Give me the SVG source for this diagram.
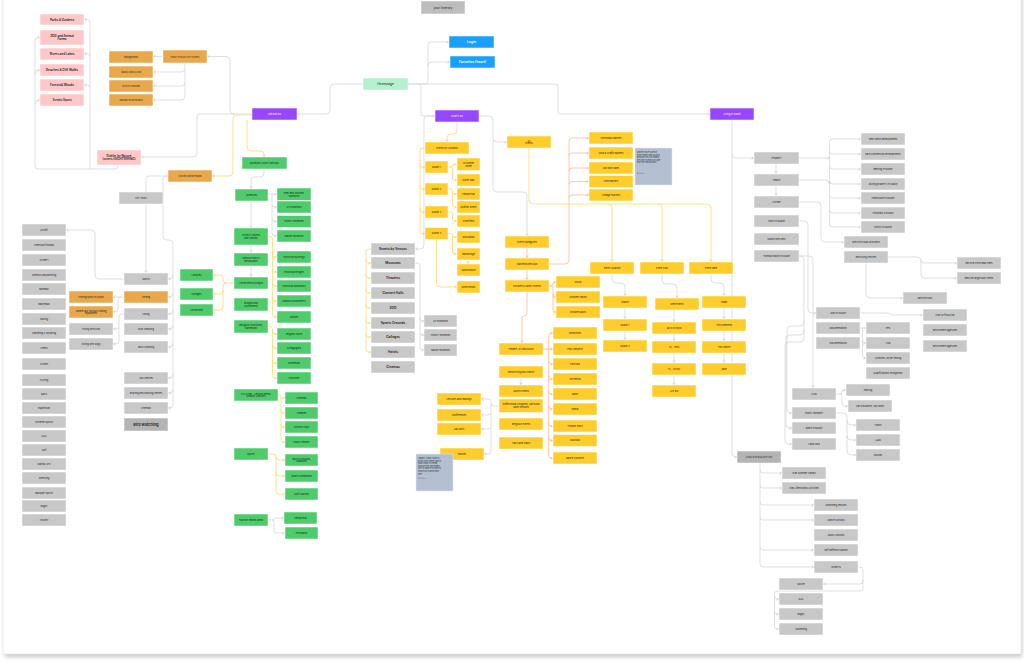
<svg xmlns="http://www.w3.org/2000/svg" width="1024" height="661" viewBox="0 0 1024 661">
<defs>
<style>
.n rect{stroke:#ffffff;stroke-width:.5}
.n text{font-family:Inter,"Liberation Sans",sans-serif;font-size:2.4px;fill:#1e1e1e;text-anchor:middle;dominant-baseline:central}
.gy rect{fill:#c8c8c8}
.dk rect{fill:#b4b4b4}
.yl rect{fill:#ffcd2b}
.gr rect{fill:#4ecb6b}
.or rect{fill:#e8a84b}
.pk rect{fill:#ffc8c8}
.pu rect{fill:#9747ff}
.bl rect{fill:#18a0fb}
.mt rect{fill:#b6f1cf}
.pu text,.bl text{fill:#ffffff}
.bl text{font-size:3.4px;font-weight:600}
.b text{font-size:3.2px;font-weight:700;fill:#333}
.pk text{font-size:3px;font-weight:700;fill:#333}
.nt rect{fill:#b4c0d2;stroke:#e4e8ee}
.nt text{text-anchor:start;font-size:1.9px;dominant-baseline:auto;fill:#333}
.c{fill:none;stroke-width:.7;stroke-linejoin:round}
.cg{stroke:#d2d2d2;marker-end:url(#ag)}
.cy{stroke:#ffd55c;marker-end:url(#ay)}
.cs{stroke:#ffb08c;marker-end:url(#as)}
</style>
<marker id="ag" markerWidth="4" markerHeight="4" refX="2.4" refY="1.5" orient="auto" markerUnits="userSpaceOnUse"><path d="M0.3,0.2 L2.4,1.5 L0.3,2.8" fill="none" stroke="#bdbdbd" stroke-width=".5"/></marker>
<marker id="ay" markerWidth="4" markerHeight="4" refX="2.4" refY="1.5" orient="auto" markerUnits="userSpaceOnUse"><path d="M0.3,0.2 L2.4,1.5 L0.3,2.8" fill="none" stroke="#f5c53c" stroke-width=".5"/></marker>
<marker id="as" markerWidth="4" markerHeight="4" refX="2.4" refY="1.5" orient="auto" markerUnits="userSpaceOnUse"><path d="M0.3,0.2 L2.4,1.5 L0.3,2.8" fill="none" stroke="#ff9a6e" stroke-width=".5"/></marker>
<filter id="sh" x="-5%" y="-5%" width="110%" height="110%"><feGaussianBlur stdDeviation="2"/></filter>
</defs>
<rect x="0" y="0" width="1024" height="661" fill="#ffffff"/>
<rect x="5" y="-4" width="1017" height="661" fill="#9a9a9a" opacity=".55" filter="url(#sh)"/>
<rect x="3" y="-6" width="1018" height="660" fill="#ffffff" stroke="#e6e6e6" stroke-width=".6"/>

<g id="connectors">
<path class="c cg" d="M408,84 H425 Q428,84 428,81 V45 Q428,42 431,42 H448.5"/>
<path class="c cg" d="M428,66 Q428,62 432,62 H449.5"/>
<path class="c cg" d="M408,84 H555 Q558,84 558,87 V111 Q558,114 561,114 H709.5"/>
<path class="c cg" d="M418,84 Q421,84 421,87 V113 Q421,116 424,116 H434.5"/>
<path class="c cg" d="M363,84 H334 Q330,84 330,88 V110 Q330,114 326,114 H297.5"/>
<path class="c cg" d="M252,114 H200 Q197,114 197,117 V153 Q197,157 193,157 H141.5"/>
<path class="c cg" d="M234,114 Q230,114 230,110 V60 Q230,56.5 226,56.5 H207.5"/>
<path class="c cg" d="M163,56.5 H153.5"/>
<path class="c cg" d="M185,63 V68 Q185,72 181,72 H153.5"/>
<path class="c cg" d="M185,70 V82 Q185,86 181,86 H153.5"/>
<path class="c cg" d="M185,84 V96 Q185,100 181,100 H153.5"/>
<path class="c cg" d="M118,165 V166 Q118,169 115,169 H38 Q35,169 35,166 V41 Q35,37.5 38,37.5 H39.5"/>
<path class="c cg" d="M35,74 Q35,70 38,70 H39.5"/>
<path class="c cg" d="M35,104 Q35,100 38,100 H39.5"/>
<path class="c cg" d="M90,169 V23 Q90,19.5 87,19.5 H84.5"/>
<path class="c cg" d="M90,57 Q90,53.7 87,53.7 H84.5"/>
<path class="c cg" d="M90,88 Q90,85 87,85 H84.5"/>
<path class="c cg" d="M168,176 H149 Q146,176 146,179 V272.5"/>
<path class="c cg" d="M168,176 H166 Q163,176 163,179 V236 Q163,240 167,240 H169 Q173,240 173,244 V404 Q173,408 170,408 H168.5"/>
<path class="c cg" d="M173,275 Q173,279 170,279 H168.5"/>
<path class="c cg" d="M173,293 Q173,297 170,297 H168.5"/>
<path class="c cg" d="M173,310 Q173,314 170,314 H168.5"/>
<path class="c cg" d="M173,325 Q173,329 170,329 H168.5"/>
<path class="c cg" d="M173,343 Q173,347 170,347 H168.5"/>
<path class="c cg" d="M173,374 Q173,378 170,378 H168.5"/>
<path class="c cg" d="M173,389 Q173,393 170,393 H168.5"/>
<path class="c cg" d="M124,279 H99 Q95,279 95,275 V234 Q95,230 91,230 H66.5"/>
<path class="c cg" d="M124,297 H113.5"/>
<path class="c cg" d="M121,297 Q118,297 118,300 V308.7 Q118,311.7 115,311.7 H113.5"/>
<path class="c cg" d="M124,314 H122 Q119,314 119,317 V326 Q119,329 116,329 H113.5"/>
<path class="c cg" d="M119,327 V341 Q119,344 116,344 H113.5"/>
<path class="c cg" d="M264,169 V173 Q264,177 260,177 H254 Q251,177 251,180 V188.5"/>
<path class="c cg" d="M251,201 V227.5"/>
<path class="c cg" d="M251,245 V252.5"/>
<path class="c cg" d="M251,266 V276.5"/>
<path class="c cg" d="M268,194 H276.5"/>
<path class="c cg" d="M272,194 V204 Q272,207 275,207 H276.5"/>
<path class="c cg" d="M272,205 V218.5 Q272,221.5 275,221.5 H276.5"/>
<path class="c cg" d="M272,220 V233 Q272,236 275,236 H276.5"/>
<path class="c cg" d="M268,520 H272 Q274,520 274,519 Q274,518 276,518 H283.5"/>
<path class="c cg" d="M272,520 Q274,520 274,522 V531 Q274,533 276,533 H284.5"/>
<path class="c cg" d="M435,116 H427 Q424,116 424,119 V245 Q424,249 420,249 H415.5"/>
<path class="c cg" d="M479,116 H489 Q493,116 493,120 V138 Q493,142 497,142 H506.5"/>
<path class="c cg" d="M493,140 V188 Q493,192 497,192 H523 Q527,192 527,196 V235.5"/>
<path class="c cg" d="M415,263 H417 Q420,263 420,266 V318 Q420,321 422,321 H423.5"/>
<path class="c cg" d="M420,318 V332 Q420,335 422,335 H423.5"/>
<path class="c cg" d="M420,333 V347 Q420,350 422,350 H423.5"/>
<path class="c cg" d="M468,260 V263.5"/>
<path class="c cg" d="M612,274 V279 Q612,283 616,283 H621 Q625,283 625,287 V295.5"/>
<path class="c cg" d="M625,308.3 V318.5"/>
<path class="c cg" d="M625,331 V339.5"/>
<path class="c cg" d="M662,274 V280 Q662,284 666,284 H673 Q677,284 677,288 V297.5"/>
<path class="c cg" d="M674,310 V321.5"/>
<path class="c cg" d="M674,334.3 V340.5"/>
<path class="c cg" d="M674,353 V362.5"/>
<path class="c cg" d="M674,375.3 V384.5"/>
<path class="c cg" d="M711,274 V279 Q711,283 715,283 H720 Q724,283 724,287 V295.5"/>
<path class="c cg" d="M724,308.3 V318.5"/>
<path class="c cg" d="M724,331 V340.5"/>
<path class="c cg" d="M724,353 V362.5"/>
<path class="c cg" d="M521,378.3 V384.5"/>
<path class="c cg" d="M499,406 H494 Q491,406 491,403 V401.5 Q491,399 488,399 H481.5"/>
<path class="c cg" d="M491,404 V412 Q491,415 488,415 H481.5"/>
<path class="c cg" d="M491,413 V426 Q491,429 488,429 H481.5"/>
<path class="c cg" d="M491,427 V451 Q491,454 488,454 H484.5"/>
<path class="c cg" d="M732,120 V453 Q732,457 736,457 H736.8"/>
<path class="c cg" d="M732,154 Q732,158 736,158 H753.5"/>
<path class="c cg" d="M776,164 V173.5"/>
<path class="c cg" d="M776,186 V195.5"/>
<path class="c cg" d="M799,158 H829.5"/>
<path class="c cg" d="M799,180 H825 Q829.5,180 829.5,184"/>
<path class="c cg" d="M829.5,142 Q829.5,139 832.5,139 H860.5"/>
<path class="c cg" d="M829.5,142 V151 Q829.5,154 832.5,154 H860.5"/>
<path class="c cg" d="M829.5,150 V166 Q829.5,169 832.5,169 H860.5"/>
<path class="c cg" d="M829.5,166 V181 Q829.5,184 832.5,184 H860.5"/>
<path class="c cg" d="M829.5,181 V195 Q829.5,198 832.5,198 H860.5"/>
<path class="c cg" d="M829.5,195 V210 Q829.5,213 832.5,213 H860.5"/>
<path class="c cg" d="M829.5,209 V224 Q829.5,227 832.5,227 H860.5"/>
<path class="c cg" d="M799,202 H817 Q821,202 821,206 V238 Q821,242 825,242 H843.5"/>
<path class="c cg" d="M888,257 H917 Q921,257 921,260 Q921,263 924,263 H956.5"/>
<path class="c cg" d="M921,260 V275 Q921,278 924,278 H956.5"/>
<path class="c cg" d="M866,263 V294 Q866,298 870,298 H902.5"/>
<path class="c cg" d="M799,221 H804 Q808,221 808,225 V309 Q808,313 812,313 H815.5"/>
<path class="c cg" d="M860,313 H886 Q890,313 892,315 H922.5"/>
<path class="c cg" d="M860,328 H865.5"/>
<path class="c cg" d="M862.5,328 V340 Q862.5,343 864,343 H865.5"/>
<path class="c cg" d="M862.5,340 V355 Q862.5,358 864,358 H865.5"/>
<path class="c cg" d="M799,256 H809 Q813,256 813,260 V387.5"/>
<path class="c cg" d="M799,256 H801 Q804,256 804,260 V322 Q804,326 800,326 H791 Q787,326 787,330 V409 Q787,413 790,413 H791.5"/>
<path class="c cg" d="M804,320 V331 Q804,335 800,335 H790 Q786,335 786,339 V424 Q786,428 789,428 H791.5"/>
<path class="c cg" d="M804,330 V338 Q804,342 800,342 H789 Q785,342 785,346 V440 Q785,444 788,444 H791.5"/>
<path class="c cg" d="M836,394 H839 Q842,394 842,392 Q842,390 844,390 H845.5"/>
<path class="c cg" d="M840,394 Q842,394 842,396 V404 Q842,406 844.5,406 H847.5"/>
<path class="c cg" d="M836,413 H843 Q847,413 847,417 V421 Q847,425 851,425 H855.5"/>
<path class="c cg" d="M847,420 V436 Q847,440 851,440 H855.5"/>
<path class="c cg" d="M847,435 V451 Q847,455 851,455 H855.5"/>
<path class="c cg" d="M760,463 V564 Q760,567 763,567 H813.5"/>
<path class="c cg" d="M760,470 Q760,473 763,473 H781.5"/>
<path class="c cg" d="M760,485 Q760,488 763,488 H781.5"/>
<path class="c cg" d="M760,502 Q760,505 763,505 H813.5"/>
<path class="c cg" d="M760,517 Q760,520 763,520 H813.5"/>
<path class="c cg" d="M760,547 Q760,550 763,550 H813.5"/>
<path class="c cg" d="M858,567 H860 Q863,567 863,570 V581 Q863,584 860,584 H823.5"/>
<path class="c cg" d="M863,580 V588 Q863,591 860,591 H777.5 Q774.5,591 774.5,594 V626 Q774.5,629 777,629 H778.5"/>
<path class="c cg" d="M774.5,596 Q774.5,599 777,599 H778.5"/>
<path class="c cg" d="M774.5,611 Q774.5,614 777,614 H778.5"/>

<path class="c cy" d="M252,115 H237 Q233,115 233,119 V172 Q233,176 229,176 H212.5"/>
<path class="c cy" d="M247,120 V147 Q247,151 251,151 H260 Q264,151 264,154 V156.5"/>
<path class="c cy" d="M268,236.5 H270 Q272.5,236.5 272.5,239 V254.5 Q272.5,257 275,257 H276.5"/>
<path class="c cy" d="M272.5,254 V269.5 Q272.5,272 275,272 H276.5"/>
<path class="c cy" d="M272.5,269 V283.5 Q272.5,286 275,286 H276.5"/>
<path class="c cy" d="M272.5,283 V298.5 Q272.5,301 275,301 H276.5"/>
<path class="c cy" d="M272.5,298 V314.5 Q272.5,317 275,317 H276.5"/>
<path class="c cy" d="M268,326.5 H270 Q272.5,326.5 272.5,329 V331.5 Q272.5,334 275,334 H276.5"/>
<path class="c cy" d="M272.5,331 V345.5 Q272.5,348 275,348 H276.5"/>
<path class="c cy" d="M272.5,345 V360.5 Q272.5,363 275,363 H276.5"/>
<path class="c cy" d="M272.5,360 V375.5 Q272.5,378 275,378 H276.5"/>
<path class="c cy" d="M234,283 H226 Q223,283 223,280 V278 Q223,275 220,275 H213.5"/>
<path class="c cy" d="M226,283 Q223,283 223,286 V291 Q223,294 220,294 H213.5"/>
<path class="c cy" d="M223,290 V307 Q223,310 220,310 H213.5"/>
<path class="c cy" d="M278,395 H279 Q281,395 281,397 Q281,398 283,398 H284.5"/>
<path class="c cy" d="M281,397 V411 Q281,413 283,413 H284.5"/>
<path class="c cy" d="M281,410 V425 Q281,427 283,427 H284.5"/>
<path class="c cy" d="M281,424 V440 Q281,442 283,442 H284.5"/>
<path class="c cy" d="M268,454 H273 Q276,454 276,457 Q276,460 279,460 H284.5"/>
<path class="c cy" d="M276,457 V473 Q276,476 279,476 H284.5"/>
<path class="c cy" d="M276,472 V491 Q276,494 279,494 H284.5"/>
<path class="c cy" d="M457,122 V130 Q457,134 453,134 H451 Q447,134 447,138 V141.5"/>
<path class="c cy" d="M425,148 H423 Q420,148 420,151 V164 Q420,167 422,167 H424.8"/>
<path class="c cy" d="M420,163 V186 Q420,189 422,189 H424.8"/>
<path class="c cy" d="M420,185 V209 Q420,212 422,212 H424.8"/>
<path class="c cy" d="M420,208 V230.5 Q420,233.5 422,233.5 H424.8"/>
<path class="c cy" d="M448,167 H450 Q452.5,167 452.5,165.5 Q452.5,164.3 454.5,164.3 H456.5"/>
<path class="c cy" d="M450,167 Q452.5,167 452.5,169 V178 Q452.5,180 454.5,180 H456.5"/>
<path class="c cy" d="M448,189 H450 Q452.5,189 452.5,191 V192 Q452.5,194 454.5,194 H456.5"/>
<path class="c cy" d="M452.5,191 V205 Q452.5,207 454.5,207 H456.5"/>
<path class="c cy" d="M448,212 H450 Q452.5,212 452.5,214 V219 Q452.5,221 454.5,221 H456.5"/>
<path class="c cy" d="M448,233.5 H450 Q452.5,233.5 452.5,235 Q452.5,237 454.5,237 H456.5"/>
<path class="c cy" d="M452.5,235 V252 Q452.5,254 454.5,254 H456.5"/>
<path class="c cy" d="M436.5,240 V283 Q436.5,287 440.5,287 H456.5"/>
<path class="c cy" d="M529,148 V200 Q529,204 533,204 H707 Q711,204 711,208 V261.5"/>
<path class="c cy" d="M608,204 Q612,204 612,208 V261.5"/>
<path class="c cy" d="M658,204 Q662,204 662,208 V261.5"/>
<path class="c cy" d="M371,249 H369 Q366,249 366,252 V260 Q366,263 368,263 H370.5"/>
<path class="c cy" d="M366,259 V275 Q366,278 368,278 H370.5"/>
<path class="c cy" d="M366,274 V290 Q366,293 368,293 H370.5"/>
<path class="c cy" d="M366,289 V305 Q366,308 368,308 H370.5"/>
<path class="c cy" d="M366,304 V320 Q366,323 368,323 H370.5"/>
<path class="c cy" d="M366,319 V334 Q366,337 368,337 H370.5"/>
<path class="c cy" d="M366,333 V349 Q366,352 368,352 H370.5"/>

<path class="c cs" d="M527,248 V257.5"/>
<path class="c cs" d="M527,270 V279.5"/>
<path class="c cs" d="M549,264 H565 Q569,264 569,260 V141 Q569,138 572,138 H588.5"/>
<path class="c cs" d="M569,156 Q569,153 572,153 H588.5"/>
<path class="c cs" d="M569,171 Q569,168 572,168 H588.5"/>
<path class="c cs" d="M569,184.5 Q569,181.5 572,181.5 H588.5"/>
<path class="c cs" d="M569,198 Q569,195 572,195 H588.5"/>
<path class="c cs" d="M549,286 H551 Q553,286 553,284 Q553,282 554.5,282 H555.5"/>
<path class="c cs" d="M551,286 Q553,286 553,288 V295 Q553,297 554.5,297 H555.5"/>
<path class="c cs" d="M553,294 V310 Q553,312 554.5,312 H555.5"/>
<path class="c cs" d="M527,292 V313 Q527,316 524,316 Q522,316 522,319 V342.5"/>
<path class="c cs" d="M543,349 H552.5"/>
<path class="c cs" d="M548.7,349 V336 Q548.7,333 551,333 H552.5"/>
<path class="c cs" d="M548.7,349 V361 Q548.7,364 551,364 H552.5"/>
<path class="c cs" d="M548.7,361 V376 Q548.7,379 551,379 H552.5"/>
<path class="c cs" d="M548.7,376 V391 Q548.7,394 551,394 H552.5"/>
<path class="c cs" d="M548.7,391 V406 Q548.7,409 551,409 H552.5"/>
<path class="c cs" d="M548.7,406 V423 Q548.7,426 551,426 H552.5"/>
<path class="c cs" d="M548.7,423 V437.5 Q548.7,440.5 551,440.5 H552.5"/>
<path class="c cs" d="M548.7,437 V455 Q548.7,458 551,458 H552.5"/>
</g>

<g id="itinerary" class="n gy"><rect x="421" y="1" width="44" height="13" style="fill:#bdbdbd"/><text x="443" y="7.5" style="font-size:3px">your Itinerary</text></g>
<g id="homepage" class="n mt"><rect x="363" y="78" width="45" height="12"/><text x="385.5" y="84" style="font-size:3.2px">Homepage</text></g>
<g id="login" class="n bl"><rect x="449" y="36" width="45" height="12"/><text x="471.5" y="42">Login</text></g>
<g id="favorites" class="n bl"><rect x="450" y="56" width="45" height="12"/><text x="472.5" y="62">Favorites (heart)</text></g>
<g id="see-and-do" class="n pu"><rect x="252" y="108" width="45" height="12"/><text x="274.5" y="114">See and do</text></g>
<g id="whats-on" class="n pu"><rect x="435" y="110" width="44" height="12"/><text x="457" y="116">What's On</text></g>
<g id="living-in-dublin" class="n pu"><rect x="710" y="108" width="44" height="12"/><text x="732" y="114">Living in Dublin</text></g>

<g id="parks" class="n pk"><rect x="40" y="14" width="44" height="11"/><text x="62" y="19.5">Parks &amp; Gardens</text></g>
<g id="zoo" class="n pk"><rect x="40" y="30" width="44" height="15"/><text x="62" y="37.5"><tspan x="62" dy="-1.7">ZOO and Animal</tspan><tspan x="62" dy="3.4">Farms</tspan></text></g>
<g id="rivers" class="n pk"><rect x="40" y="48" width="44" height="12"/><text x="62" y="54">Rivers and Lakes</text></g>
<g id="beaches" class="n pk"><rect x="40" y="64" width="44" height="12"/><text x="62" y="70">Beaches &amp; Cliff Walks</text></g>
<g id="forests" class="n pk"><rect x="40" y="79" width="44" height="12"/><text x="62" y="85">Forests&amp; Woods</text></g>
<g id="scenic" class="n pk"><rect x="40" y="94" width="44" height="12"/><text x="62" y="100">Scenic Spots</text></g>
<g id="nature-lovers" class="n pk"><rect x="97" y="150" width="44" height="15"/><text x="119" y="157.5"><tspan x="119" dy="-1.7">Dublin for Nature</tspan><tspan x="119" dy="3.4">Lovers (SIGHTSEEING)</tspan></text></g>

<g id="family-fun" class="n or"><rect x="163" y="50" width="44" height="13"/><text x="185" y="56.5" style="font-size:1.9px">FAMILY FUN DAY OUT TICKETS</text></g>
<g id="playgrounds" class="n or"><rect x="109" y="51" width="44" height="12"/><text x="131" y="57">Playgrounds</text></g>
<g id="animal-parks" class="n or"><rect x="109" y="66" width="44" height="12"/><text x="131" y="72" style="font-size:1.9px">ANIMAL PARKS &amp; ZOO</text></g>
<g id="activity-centres" class="n or"><rect x="109" y="80" width="44" height="12"/><text x="131" y="86" style="font-size:1.9px">ACTIVITY CENTRES</text></g>
<g id="indoor-fun" class="n or"><rect x="109" y="94" width="44" height="12"/><text x="131" y="100" style="font-size:1.9px">INDOOR FUN NETWORKS</text></g>
<g id="leisure-centres" class="n or"><rect x="168" y="170" width="44" height="12"/><text x="190" y="176" style="font-size:1.9px">LEISURE CENTRE FINDER</text></g>
<g id="fishing" class="n or"><rect x="124" y="291" width="44" height="12"/><text x="146" y="297">Fishing</text></g>
<g id="fishing-spots" class="n or"><rect x="69" y="291" width="44" height="12"/><text x="91" y="297">Fishing spots in Dublin</text></g>
<g id="fishing-equipment" class="n or"><rect x="69" y="306" width="44" height="12"/><text x="91" y="312"><tspan x="91" dy="-1.4">Where can you buy Fishing</tspan><tspan x="91" dy="2.8">equipment</tspan></text></g>

<g id="city-tours" class="n gy"><rect x="119" y="192" width="44" height="12"/><text x="141" y="198">City Tours</text></g>
<g id="sports" class="n gy"><rect x="124" y="273" width="44" height="12"/><text x="146" y="279">Sports</text></g>
<g id="hiking" class="n gy"><rect x="124" y="308" width="44" height="12"/><text x="146" y="314">Hiking</text></g>
<g id="wild-camping" class="n gy"><rect x="124" y="323" width="44" height="12"/><text x="146" y="329">Wild Camping</text></g>
<g id="rock-climbing" class="n gy"><rect x="124" y="341" width="44" height="12"/><text x="146" y="347">Rock Climbing</text></g>
<g id="spa" class="n gy"><rect x="124" y="372" width="44" height="12"/><text x="146" y="378">SPA centres</text></g>
<g id="bowling" class="n gy"><rect x="124" y="387" width="44" height="12"/><text x="146" y="393">Bowling and bowling centres</text></g>
<g id="cinemas-left" class="n gy"><rect x="124" y="402" width="44" height="12"/><text x="146" y="408">Cinemas</text></g>
<g id="bird-watching" class="n dk b"><rect x="124" y="418" width="44" height="13"/><text x="146" y="424.5" style="font-size:3.8px">Bird watching</text></g>
<g id="hiking-kids" class="n gy"><rect x="69" y="323" width="44" height="12"/><text x="91" y="329">Hiking with kids</text></g>
<g id="hiking-dogs" class="n gy"><rect x="69" y="338" width="44" height="12"/><text x="91" y="344">Hiking with dogs</text></g>

<g id="s-airsoft" class="n gy"><rect x="22" y="224" width="44" height="12"/><text x="44" y="230">Airsoft</text></g>
<g id="s-american-football" class="n gy"><rect x="22" y="239" width="44" height="12"/><text x="44" y="245">American football</text></g>
<g id="s-archery" class="n gy"><rect x="22" y="254" width="44" height="12"/><text x="44" y="260">Archery</text></g>
<g id="s-athletics" class="n gy"><rect x="22" y="269" width="44" height="12"/><text x="44" y="275">Athletics and Running</text></g>
<g id="s-baseball" class="n gy"><rect x="22" y="283" width="44" height="12"/><text x="44" y="289">Baseball</text></g>
<g id="s-basketball" class="n gy"><rect x="22" y="298" width="44" height="12"/><text x="44" y="304">Basketball</text></g>
<g id="s-boxing" class="n gy"><rect x="22" y="313" width="44" height="12"/><text x="44" y="319">Boxing</text></g>
<g id="s-canoeing" class="n gy"><rect x="22" y="327" width="44" height="12"/><text x="44" y="333">Canoeing &amp; Kayaking</text></g>
<g id="s-chess" class="n gy"><rect x="22" y="342" width="44" height="12"/><text x="44" y="348">Chess</text></g>
<g id="s-cricket" class="n gy"><rect x="22" y="358" width="44" height="12"/><text x="44" y="364">Cricket</text></g>
<g id="s-cycling" class="n gy"><rect x="22" y="374" width="44" height="12"/><text x="44" y="380">Cycling</text></g>
<g id="s-darts" class="n gy"><rect x="22" y="388" width="44" height="12"/><text x="44" y="394">Darts</text></g>
<g id="s-equestrian" class="n gy"><rect x="22" y="402" width="44" height="12"/><text x="44" y="408">Equestrian</text></g>
<g id="s-extreme" class="n gy"><rect x="22" y="416" width="44" height="12"/><text x="44" y="422">Extreme Sports</text></g>
<g id="s-gaa" class="n gy"><rect x="22" y="430" width="44" height="12"/><text x="44" y="436">GAA</text></g>
<g id="s-golf" class="n gy"><rect x="22" y="444" width="44" height="12"/><text x="44" y="450">Golf</text></g>
<g id="s-martial" class="n gy"><rect x="22" y="458" width="44" height="12"/><text x="44" y="464">Martial Arts</text></g>
<g id="s-wrestling" class="n gy"><rect x="22" y="472" width="44" height="12"/><text x="44" y="478">Wrestling</text></g>
<g id="s-racquet" class="n gy"><rect x="22" y="487" width="44" height="12"/><text x="44" y="493">Racquet Sports</text></g>
<g id="s-rugby" class="n gy"><rect x="22" y="500" width="44" height="12"/><text x="44" y="506">Rugby</text></g>
<g id="s-hockey" class="n gy"><rect x="22" y="514" width="44" height="12"/><text x="44" y="520">Hockey</text></g>

<g id="g-sightseeing" class="n gr"><rect x="242" y="157" width="45" height="12"/><text x="264.5" y="163">Museums (SIGHTSEEING)</text></g>
<g id="g-museums" class="n gr"><rect x="235" y="189" width="33" height="12"/><text x="251.5" y="195">Museums</text></g>
<g id="g-historic" class="n gr"><rect x="234" y="228" width="34" height="17"/><text x="251" y="236.5"><tspan x="251" dy="-1.4">Historic Houses</tspan><tspan x="251" dy="2.8">and Castles</tspan></text></g>
<g id="g-pubs" class="n gr"><rect x="234" y="253" width="34" height="13"/><text x="251" y="259.5"><tspan x="251" dy="-1.4">Famous Pubs &amp;</tspan><tspan x="251" dy="2.8">Restaurants</tspan></text></g>
<g id="g-education" class="n gr"><rect x="234" y="277" width="34" height="12"/><text x="251" y="283">Universities/Colleges</text></g>
<g id="g-bridges" class="n gr"><rect x="234" y="298" width="34" height="13"/><text x="251" y="304.5"><tspan x="251" dy="-1.4">Bridges and</tspan><tspan x="251" dy="2.8">Monuments</tspan></text></g>
<g id="g-religious" class="n gr"><rect x="234" y="320" width="34" height="13"/><text x="251" y="326.5"><tspan x="251" dy="-1.4">Religious Structures,</tspan><tspan x="251" dy="2.8">Cathedrals</tspan></text></g>
<g id="g-beer" class="n gr"><rect x="277" y="188" width="34" height="12.5"/><text x="294" y="194.2"><tspan x="294" dy="-1.4">Beer and Whiskey</tspan><tspan x="294" dy="2.8">Museums</tspan></text></g>
<g id="g-art" class="n gr"><rect x="277" y="201" width="34" height="12"/><text x="294" y="207">Art museums</text></g>
<g id="g-history" class="n gr"><rect x="277" y="215.5" width="34" height="12"/><text x="294" y="221.5">History museums</text></g>
<g id="g-nature" class="n gr"><rect x="277" y="230" width="34" height="12"/><text x="294" y="236">Nature museums</text></g>
<g id="g-hbuildings" class="n gr"><rect x="277" y="251" width="34" height="12"/><text x="294" y="257">Historical Buildings</text></g>
<g id="g-hbridges" class="n gr"><rect x="277" y="266" width="34" height="12"/><text x="294" y="272">Historical Bridges</text></g>
<g id="g-hlandmarks" class="n gr"><rect x="277" y="280" width="34" height="12"/><text x="294" y="286">Historical landmarks</text></g>
<g id="g-monuments" class="n gr"><rect x="277" y="295" width="34" height="12"/><text x="294" y="301">Famous Monuments</text></g>
<g id="g-castles" class="n gr"><rect x="277" y="311" width="34" height="12"/><text x="294" y="317">Castles</text></g>
<g id="g-relspots" class="n gr"><rect x="277" y="328" width="34" height="12"/><text x="294" y="334">religious spots</text></g>
<g id="g-synagogues" class="n gr"><rect x="277" y="342" width="34" height="12"/><text x="294" y="348">Synagogues</text></g>
<g id="g-cathedrals" class="n gr"><rect x="277" y="357" width="34" height="12"/><text x="294" y="363">Cathedrals</text></g>
<g id="g-churches" class="n gr"><rect x="277" y="372" width="34" height="12"/><text x="294" y="378">Churches</text></g>
<g id="g-libraries" class="n gr"><rect x="180" y="269" width="33" height="12"/><text x="196.5" y="275">Libraries</text></g>
<g id="g-colleges" class="n gr"><rect x="180" y="288" width="33" height="12"/><text x="196.5" y="294">Colleges</text></g>
<g id="g-universities" class="n gr"><rect x="180" y="304" width="33" height="12"/><text x="196.5" y="310">Universities</text></g>
<g id="g-culture" class="n gr"><rect x="234" y="389" width="44" height="12"/><text x="256" y="395"><tspan x="256" dy="-1.4">CULTURE - Leisure events</tspan><tspan x="256" dy="2.8">(theatre, concert)</tspan></text></g>
<g id="g-cinemas" class="n gr"><rect x="285" y="392" width="33" height="12"/><text x="301.5" y="398">Cinemas</text></g>
<g id="g-theatres" class="n gr"><rect x="285" y="407" width="33" height="12"/><text x="301.5" y="413">Theatres</text></g>
<g id="g-concert" class="n gr"><rect x="285" y="421" width="33" height="12"/><text x="301.5" y="427">Concert Halls</text></g>
<g id="g-music" class="n gr"><rect x="285" y="436" width="33" height="12"/><text x="301.5" y="442">Music Venues</text></g>
<g id="g-sports" class="n gr"><rect x="234" y="448" width="34" height="12"/><text x="251" y="454">Sports</text></g>
<g id="g-grounds" class="n gr"><rect x="285" y="454" width="33" height="12"/><text x="301.5" y="460"><tspan x="301.5" dy="-1.4">Sports Grounds,</tspan><tspan x="301.5" dy="2.8">Stadiums</tspan></text></g>
<g id="g-complexes" class="n gr"><rect x="285" y="470" width="33" height="12"/><text x="301.5" y="476">Sports Complexes</text></g>
<g id="g-golf" class="n gr"><rect x="285" y="488" width="33" height="12"/><text x="301.5" y="494">Golf Courses</text></g>
<g id="g-tourism" class="n gr"><rect x="234" y="514" width="34" height="12"/><text x="251" y="520">Tourism related areas</text></g>
<g id="g-templebar" class="n gr"><rect x="284" y="512" width="33" height="12"/><text x="300.5" y="518">Temple Bar</text></g>
<g id="g-portobello" class="n gr"><rect x="285" y="527" width="33" height="12"/><text x="301.5" y="533">Portobello</text></g>

<g id="v-events" class="n gy b"><rect x="371" y="243" width="44" height="12"/><text x="393" y="249">Events by Venues</text></g>
<g id="v-museums" class="n gy b"><rect x="371" y="257" width="44" height="12"/><text x="393" y="263">Museums</text></g>
<g id="v-theatres" class="n gy b"><rect x="371" y="272" width="44" height="12"/><text x="393" y="278">Theatres</text></g>
<g id="v-concert" class="n gy b"><rect x="371" y="287" width="44" height="12"/><text x="393" y="293">Concert Halls</text></g>
<g id="v-zoo" class="n gy b"><rect x="371" y="302" width="44" height="12"/><text x="393" y="308">ZOO</text></g>
<g id="v-sports" class="n gy b"><rect x="371" y="317" width="44" height="12"/><text x="393" y="323">Sports Grounds</text></g>
<g id="v-colleges" class="n gy b"><rect x="371" y="331" width="44" height="12"/><text x="393" y="337">Colleges</text></g>
<g id="v-hotels" class="n gy b"><rect x="371" y="346" width="44" height="12"/><text x="393" y="352">Hotels</text></g>
<g id="v-cinemas" class="n gy b"><rect x="371" y="361" width="44" height="12"/><text x="393" y="367">Cinemas</text></g>
<g id="v-art" class="n gy"><rect x="424" y="315" width="33" height="12"/><text x="440.5" y="321">Art museums</text></g>
<g id="v-history" class="n gy"><rect x="424" y="329" width="33" height="12"/><text x="440.5" y="335">History museums</text></g>
<g id="v-nature" class="n gy"><rect x="424" y="344" width="33" height="12"/><text x="440.5" y="350">Nature museums</text></g>

<g id="w-location" class="n yl"><rect x="425" y="142" width="44" height="12"/><text x="447" y="148">Events by Location</text></g>
<g id="w-d1" class="n yl"><rect x="425" y="161" width="23" height="12"/><text x="436.5" y="167">Dublin 1</text></g>
<g id="w-d2" class="n yl"><rect x="425" y="183" width="23" height="12"/><text x="436.5" y="189">Dublin 2</text></g>
<g id="w-d3" class="n yl"><rect x="425" y="206" width="23" height="12"/><text x="436.5" y="212">Dublin 3</text></g>
<g id="w-d4" class="n yl"><rect x="425" y="227.5" width="23" height="12"/><text x="436.5" y="233.5">Dublin 4</text></g>
<g id="w-oconnell" class="n yl"><rect x="457" y="158" width="23" height="12.5"/><text x="468.5" y="164.2"><tspan x="468.5" dy="-1.4">O'Connell</tspan><tspan x="468.5" dy="2.8">Street</tspan></text></g>
<g id="w-northwall" class="n yl"><rect x="457" y="174" width="23" height="12"/><text x="468.5" y="180">North Wall</text></g>
<g id="w-templebar" class="n yl"><rect x="457" y="188" width="23" height="12"/><text x="468.5" y="194">Temple Bar</text></g>
<g id="w-grafton" class="n yl"><rect x="457" y="201" width="23" height="12"/><text x="468.5" y="207">Grafton Street</text></g>
<g id="w-smithfield" class="n yl"><rect x="457" y="215" width="23" height="12"/><text x="468.5" y="221">Smithfield</text></g>
<g id="w-docklands" class="n yl"><rect x="457" y="231" width="23" height="12"/><text x="468.5" y="237">Docklands</text></g>
<g id="w-ballsbridge" class="n yl"><rect x="457" y="248" width="23" height="12"/><text x="468.5" y="254">Ballsbridge</text></g>
<g id="w-sandymount" class="n yl"><rect x="457" y="264" width="23" height="12"/><text x="468.5" y="270">Sandymount</text></g>
<g id="w-donnybrook" class="n yl"><rect x="457" y="281" width="23" height="12"/><text x="468.5" y="287">Donnybrook</text></g>

<g id="e-all" class="n yl"><rect x="507" y="136" width="44" height="12"/><text x="529" y="142"><tspan x="529" dy="-1.4">All</tspan><tspan x="529" dy="2.8">Events</tspan></text></g>
<g id="e-categories" class="n yl"><rect x="505" y="236" width="44" height="12"/><text x="527" y="242">Event Categories</text></g>
<g id="e-markets" class="n yl"><rect x="505" y="258" width="44" height="12"/><text x="527" y="264">Markets&amp;Festivals</text></g>
<g id="e-children" class="n yl"><rect x="505" y="280" width="44" height="12"/><text x="527" y="286">Children &amp; Family events</text></g>
<g id="m-christmas" class="n yl"><rect x="589" y="132" width="44" height="12"/><text x="611" y="138">Christmas Markets</text></g>
<g id="m-food" class="n yl"><rect x="589" y="147" width="44" height="12"/><text x="611" y="153">Food &amp; Crafts markets</text></g>
<g id="m-carboot" class="n yl"><rect x="589" y="162" width="44" height="12"/><text x="611" y="168">Car boot sales</text></g>
<g id="m-flea" class="n yl"><rect x="589" y="175.5" width="44" height="12"/><text x="611" y="181.5">Flea markets</text></g>
<g id="m-vintage" class="n yl"><rect x="589" y="189" width="44" height="12"/><text x="611" y="195">Vintage markets</text></g>
<g id="note-markets" class="n nt"><rect x="635" y="148" width="37" height="37"/><text x="637" y="153"><tspan x="637" dy="0">Markets have to be an</tspan><tspan x="637" dy="2.6">event rather than location,</tspan><tspan x="637" dy="2.6">because they will enable</tspan><tspan x="637" dy="2.6">the user to search by date</tspan><tspan x="637" dy="2.6">and type and location</tspan><tspan x="637" dy="11" style="font-size:1.5px;fill:#667">Mark Ross</tspan></text></g>
<g id="c-circus" class="n yl"><rect x="556" y="276" width="44" height="12"/><text x="578" y="282">Circus</text></g>
<g id="c-shows" class="n yl"><rect x="556" y="291" width="44" height="12"/><text x="578" y="297">Children shows</text></g>
<g id="c-plays" class="n yl"><rect x="556" y="306" width="44" height="12"/><text x="578" y="312">Children plays</text></g>
<g id="e-theatre" class="n yl"><rect x="499" y="343" width="44" height="12"/><text x="521" y="349">Theatre, Art and Music</text></g>
<g id="e-networking" class="n yl"><rect x="499" y="366" width="44" height="12"/><text x="521" y="372">Networking and Charity</text></g>
<g id="e-sports" class="n yl"><rect x="499" y="385" width="44" height="12"/><text x="521" y="391">Sports events</text></g>
<g id="e-professional" class="n yl"><rect x="499" y="399" width="44" height="13.5"/><text x="521" y="405.7"><tspan x="521" dy="-1.4">Professional Congress, Fairs and</tspan><tspan x="521" dy="2.8">open lectures</tspan></text></g>
<g id="e-religious" class="n yl"><rect x="499" y="418" width="44" height="12"/><text x="521" y="424">Religious events</text></g>
<g id="e-tours" class="n yl"><rect x="499" y="437" width="44" height="12"/><text x="521" y="443">Tours and walks</text></g>
<g id="e-lectures" class="n yl"><rect x="437" y="393" width="44" height="12"/><text x="459" y="399">Lectures and readings</text></g>
<g id="e-conferences" class="n yl"><rect x="437" y="409" width="44" height="12"/><text x="459" y="415">Conferences</text></g>
<g id="e-jobfairs" class="n yl"><rect x="437" y="423" width="44" height="12"/><text x="459" y="429">Job Fairs</text></g>
<g id="e-movies" class="n yl"><rect x="440" y="448" width="44" height="12"/><text x="462" y="454">Movies</text></g>
<g id="note-movies" class="n nt"><rect x="416" y="454" width="37" height="37"/><text x="418" y="459"><tspan x="418" dy="0">Update: it didn't have to</tspan><tspan x="418" dy="2.6">be an event rather than to</tspan><tspan x="418" dy="2.6">make under a cinema,</tspan><tspan x="418" dy="2.6">because this will enable</tspan><tspan x="418" dy="2.6">user to search for specific</tspan><tspan x="418" dy="2.6">movies by location and</tspan><tspan x="418" dy="2.6">time</tspan><tspan x="418" dy="4" style="font-size:1.5px;fill:#667">Mark Ross</tspan></text></g>
<g id="t-exhibitions" class="n yl"><rect x="553" y="327" width="44" height="12"/><text x="575" y="333">Exhibitions</text></g>
<g id="t-pop" class="n yl"><rect x="553" y="343" width="44" height="12"/><text x="575" y="349">Pop Concerts</text></g>
<g id="t-festivals" class="n yl"><rect x="553" y="358" width="44" height="12"/><text x="575" y="364">Festivals</text></g>
<g id="t-orchestra" class="n yl"><rect x="553" y="373" width="44" height="12"/><text x="575" y="379">Orchestra</text></g>
<g id="t-ballet" class="n yl"><rect x="553" y="388" width="44" height="12"/><text x="575" y="394">Ballet</text></g>
<g id="t-opera" class="n yl"><rect x="553" y="403" width="44" height="12"/><text x="575" y="409">Opera</text></g>
<g id="t-plays" class="n yl"><rect x="553" y="420" width="44" height="12"/><text x="575" y="426">Theatre Plays</text></g>
<g id="t-musicals" class="n yl"><rect x="553" y="434.5" width="44" height="12"/><text x="575" y="440.5">Musicals</text></g>
<g id="t-dance" class="n yl"><rect x="553" y="452" width="44" height="12"/><text x="575" y="458">Dance Concerts</text></g>
<g id="f-location" class="n yl"><rect x="590" y="262" width="44" height="12"/><text x="612" y="268">Event Location</text></g>
<g id="f-cost" class="n yl"><rect x="640" y="262" width="44" height="12"/><text x="662" y="268">Event cost</text></g>
<g id="f-date" class="n yl"><rect x="689" y="262" width="44" height="12"/><text x="711" y="268">Event Date</text></g>
<g id="l-dublin" class="n yl"><rect x="603" y="296" width="44" height="12"/><text x="625" y="302">Dublin</text></g>
<g id="l-dublin1" class="n yl"><rect x="603" y="319" width="44" height="12"/><text x="625" y="325">Dublin 1</text></g>
<g id="l-dublin2" class="n yl"><rect x="603" y="340" width="44" height="12"/><text x="625" y="346">Dublin 2</text></g>
<g id="c-free" class="n yl"><rect x="655" y="298" width="44" height="12"/><text x="677" y="304">Free events</text></g>
<g id="c-10" class="n yl"><rect x="652" y="322" width="44" height="12"/><text x="674" y="328">up to 10 euro</text></g>
<g id="c-15" class="n yl"><rect x="652" y="341" width="44" height="12"/><text x="674" y="347">10 - 15eu</text></g>
<g id="c-25" class="n yl"><rect x="652" y="363" width="44" height="12"/><text x="674" y="369">15 - 25 eur</text></g>
<g id="c-25plus" class="n yl"><rect x="652" y="385" width="44" height="12"/><text x="674" y="391">+25 eur</text></g>
<g id="d-today" class="n yl"><rect x="702" y="296" width="44" height="12"/><text x="724" y="302">Today</text></g>
<g id="d-weekend" class="n yl"><rect x="702" y="319" width="44" height="12"/><text x="724" y="325">This weekend</text></g>
<g id="d-month" class="n yl"><rect x="702" y="341" width="44" height="12"/><text x="724" y="347">This month</text></g>
<g id="d-date" class="n yl"><rect x="702" y="363" width="44" height="12"/><text x="724" y="369">Date</text></g>

<g id="r-property" class="n gy"><rect x="754" y="152" width="45" height="12"/><text x="776.5" y="158">Property</text></g>
<g id="r-health" class="n gy"><rect x="754" y="174" width="45" height="12"/><text x="776.5" y="180">Health</text></g>
<g id="r-utilities" class="n gy"><rect x="754" y="196" width="45" height="12"/><text x="776.5" y="202">Utilities</text></g>
<g id="r-work" class="n gy"><rect x="754" y="215" width="45" height="12"/><text x="776.5" y="221">Work in Dublin</text></g>
<g id="r-pets" class="n gy"><rect x="754" y="233" width="45" height="12"/><text x="776.5" y="239">Dublin with pets</text></g>
<g id="r-transport" class="n gy"><rect x="754" y="250" width="45" height="12"/><text x="776.5" y="256">Transportation in Dublin</text></g>
<g id="p-newhome" class="n gy"><rect x="861" y="133" width="44" height="12"/><text x="883" y="139">New home developments</text></g>
<g id="p-commercial" class="n gy"><rect x="861" y="148" width="44" height="12"/><text x="883" y="154">New commercial developments</text></g>
<g id="p-renting" class="n gy"><rect x="861" y="163" width="44" height="12"/><text x="883" y="169">Renting in Dublin</text></g>
<g id="p-buying" class="n gy"><rect x="861" y="178" width="44" height="12"/><text x="883" y="184">Buying property in Dublin</text></g>
<g id="h-healthcare" class="n gy"><rect x="861" y="192" width="44" height="12"/><text x="883" y="198">Healthcare in Dublin</text></g>
<g id="h-hospitals" class="n gy"><rect x="861" y="207" width="44" height="12"/><text x="883" y="213">Hospitals in Dublin</text></g>
<g id="h-clinics" class="n gy"><rect x="861" y="221" width="44" height="12"/><text x="883" y="227">Clinics in Dublin</text></g>
<g id="u-electricity" class="n gy"><rect x="844" y="236" width="44" height="12"/><text x="866" y="242">Electricity/Gas providers</text></g>
<g id="u-recycling" class="n gy"><rect x="844" y="251" width="44" height="12"/><text x="866" y="257">Recycling Centres</text></g>
<g id="u-trees" class="n gy"><rect x="957" y="257" width="44" height="12"/><text x="979" y="263">Recycle christmas trees</text></g>
<g id="u-bulky" class="n gy"><rect x="957" y="272" width="44" height="12"/><text x="979" y="278">Recycle large bulky items</text></g>
<g id="u-cars" class="n gy"><rect x="903" y="292" width="44" height="12"/><text x="925" y="298">Recycle cars</text></g>
<g id="j-jobs" class="n gy"><rect x="816" y="307" width="44" height="12"/><text x="838" y="313">Jobs in Dublin</text></g>
<g id="j-doc1" class="n gy"><rect x="816" y="322" width="44" height="12"/><text x="838" y="328">Documentation</text></g>
<g id="j-doc2" class="n gy"><rect x="816" y="337" width="44" height="12"/><text x="838" y="343">Documentation</text></g>
<g id="j-find" class="n gy"><rect x="923" y="309" width="44" height="12"/><text x="945" y="315">How to find a job</text></g>
<g id="j-agencies1" class="n gy"><rect x="923" y="324" width="44" height="12"/><text x="945" y="330">Recruitment agencies</text></g>
<g id="j-agencies2" class="n gy"><rect x="923" y="340" width="44" height="12"/><text x="945" y="346">Recruitment agencies</text></g>
<g id="d-pps" class="n gy"><rect x="866" y="322" width="44" height="12"/><text x="888" y="328">PPS</text></g>
<g id="d-visa" class="n gy"><rect x="866" y="337" width="44" height="12"/><text x="888" y="343">Visa</text></g>
<g id="d-licences" class="n gy"><rect x="866" y="352" width="44" height="12"/><text x="888" y="358">Licences, Driver testing</text></g>
<g id="d-qualifications" class="n gy"><rect x="866" y="367" width="44" height="12"/><text x="888" y="373">Qualifications recognition</text></g>
<g id="t-car" class="n gy"><rect x="792" y="388" width="44" height="12"/><text x="814" y="394">CAR</text></g>
<g id="t-public" class="n gy"><rect x="792" y="407" width="44" height="12"/><text x="814" y="413">Public transport</text></g>
<g id="t-bikes" class="n gy"><rect x="792" y="422" width="44" height="12"/><text x="814" y="428">Bikes in Dublin</text></g>
<g id="t-leap" class="n gy"><rect x="792" y="438" width="44" height="12"/><text x="814" y="444">Leap card</text></g>
<g id="t-parking" class="n gy"><rect x="846" y="384" width="44" height="12"/><text x="868" y="390">Parking</text></g>
<g id="t-insurance" class="n gy"><rect x="848" y="400" width="44" height="12"/><text x="870" y="406">Car insurance, Car taxes</text></g>
<g id="t-trains" class="n gy"><rect x="856" y="419" width="44" height="12"/><text x="878" y="425">Trains</text></g>
<g id="t-luas" class="n gy"><rect x="856" y="434" width="44" height="12"/><text x="878" y="440">Luas</text></g>
<g id="t-busses" class="n gy"><rect x="856" y="449" width="44" height="12"/><text x="878" y="455">Busses</text></g>
<g id="k-kids" class="n dk"><rect x="737" y="451" width="44" height="12"/><text x="759" y="457" style="font-size:1.9px">LIVING IN DUBLIN WITH KIDS</text></g>
<g id="k-camps" class="n gy"><rect x="782" y="467" width="44" height="12"/><text x="804" y="473">Kids Summer Camps</text></g>
<g id="k-afterschool" class="n gy"><rect x="782" y="482" width="44" height="12"/><text x="804" y="488">Kids Afterschool Activities</text></g>
<g id="k-swimming-lessons" class="n gy"><rect x="814" y="499" width="44" height="12"/><text x="836" y="505">Swimming lessons</text></g>
<g id="k-dance" class="n gy"><rect x="814" y="514" width="44" height="12"/><text x="836" y="520">Dance Schools</text></g>
<g id="k-music" class="n gy"><rect x="814" y="529" width="44" height="12"/><text x="836" y="535">Music Schools</text></g>
<g id="k-defence" class="n gy"><rect x="814" y="544" width="44" height="12"/><text x="836" y="550">Self defence classes</text></g>
<g id="k-sports" class="n gy"><rect x="814" y="561" width="44" height="12"/><text x="836" y="567">SPORTS</text></g>
<g id="k-soccer" class="n gy"><rect x="779" y="578" width="44" height="12"/><text x="801" y="584">Soccer</text></g>
<g id="k-gaa" class="n gy"><rect x="779" y="593" width="44" height="12"/><text x="801" y="599">GAA</text></g>
<g id="k-rugby" class="n gy"><rect x="779" y="608" width="44" height="12"/><text x="801" y="614">Rugby</text></g>
<g id="k-swimming" class="n gy"><rect x="779" y="623" width="44" height="12"/><text x="801" y="629">Swimming</text></g>
</svg>
